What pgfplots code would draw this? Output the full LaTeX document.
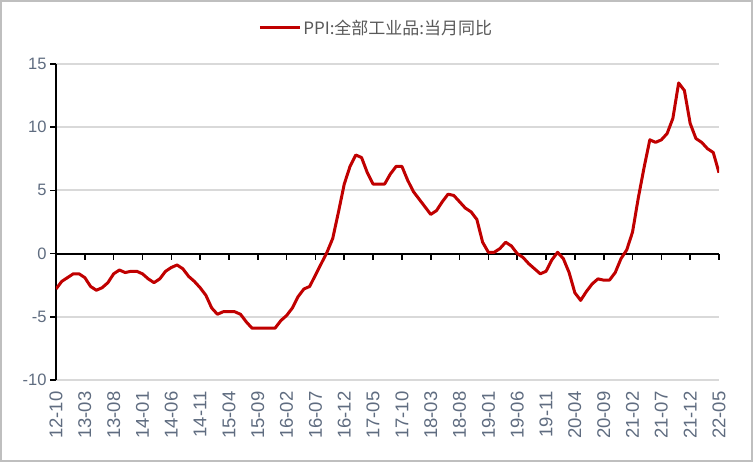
\documentclass[border=0pt]{standalone}
\usepackage{pgfplots}
\pgfplotsset{compat=1.18}
\usepackage{pgfplotstable}
\usepackage{fontspec}
\setmainfont{Liberation Sans}
\newfontfamily\cjk{Noto Sans CJK SC}
\definecolor{ppired}{RGB}{192,0,0}
\definecolor{gridgray}{RGB}{217,217,217}
\definecolor{ticktext}{RGB}{95,108,128}
\definecolor{legtext}{RGB}{89,89,89}
\definecolor{framegray}{RGB}{191,191,191}

\pgfplotstableread{
idx val
0 -2.8
1 -2.2
2 -1.9
3 -1.6
4 -1.6
5 -1.9
6 -2.6
7 -2.9
8 -2.7
9 -2.3
10 -1.6
11 -1.3
12 -1.5
13 -1.4
14 -1.4
15 -1.6
16 -2.0
17 -2.3
18 -2.0
19 -1.4
20 -1.1
21 -0.9
22 -1.2
23 -1.8
24 -2.2
25 -2.7
26 -3.3
27 -4.3
28 -4.8
29 -4.6
30 -4.6
31 -4.6
32 -4.8
33 -5.4
34 -5.9
35 -5.9
36 -5.9
37 -5.9
38 -5.9
39 -5.3
40 -4.9
41 -4.3
42 -3.4
43 -2.8
44 -2.6
45 -1.7
46 -0.8
47 0.1
48 1.2
49 3.3
50 5.5
51 6.9
52 7.8
53 7.6
54 6.4
55 5.5
56 5.5
57 5.5
58 6.3
59 6.9
60 6.9
61 5.8
62 4.9
63 4.3
64 3.7
65 3.1
66 3.4
67 4.1
68 4.7
69 4.6
70 4.1
71 3.6
72 3.3
73 2.7
74 0.9
75 0.1
76 0.1
77 0.4
78 0.9
79 0.6
80 0.0
81 -0.3
82 -0.8
83 -1.2
84 -1.6
85 -1.4
86 -0.5
87 0.1
88 -0.4
89 -1.5
90 -3.1
91 -3.7
92 -3.0
93 -2.4
94 -2.0
95 -2.1
96 -2.1
97 -1.5
98 -0.4
99 0.3
100 1.7
101 4.4
102 6.8
103 9.0
104 8.8
105 9.0
106 9.5
107 10.7
108 13.5
109 12.9
110 10.3
111 9.1
112 8.8
113 8.3
114 8.0
115 6.4
}\ppidata

\begin{document}
\begin{tikzpicture}[x=1pt,y=1pt]
\useasboundingbox (0,0) rectangle (753,462);
\draw[framegray, line width=2pt] (1,1) rectangle (752,461);
% zero line with downward ticks
\begin{axis}[
  at={(56pt,82pt)}, anchor=south west, scale only axis,
  width=663pt, height=316pt,
  xmin=0, xmax=115, ymin=-10, ymax=15,
  axis x line*=middle, axis y line=none,
  xtick={0,5,...,115}, xticklabels={},
  ytick=\empty,
  xtick align=outside,
  major tick length=6pt,
  axis line style={black, line width=2pt},
  x tick style={black, line width=1.6pt},
]
\end{axis}
\begin{axis}[
  at={(56pt,82pt)}, anchor=south west, scale only axis,
  width=663pt, height=316pt,
  xmin=0, xmax=115, ymin=-10, ymax=15,
  axis y line*=left, axis x line*=bottom,
  x axis line style={draw=none},
  y axis line style={black, line width=2pt},
  xtick={0,5,...,115},
  xticklabels={12-10,13-03,13-08,14-01,14-06,14-11,15-04,15-09,16-02,16-07,16-12,17-05,17-10,18-03,18-08,19-01,19-06,19-11,20-04,20-09,21-02,21-07,21-12,22-05},
  x tick style={draw=none},
  xticklabel shift=8pt,
  x tick label style={rotate=90, anchor=east, text=ticktext, font=\fontsize{18.5}{20}\selectfont},
  ytick={-10,-5,5,10,15},
  extra y ticks={0},
  extra y tick style={grid=none},
  y tick label style={text=ticktext, font=\fontsize{16.5}{18}\selectfont},
  ytick align=outside,
  y tick style={black, line width=1.6pt},
  major tick length=6pt,
  ymajorgrids,
  grid style={gridgray, line width=2pt},
  /pgf/number format/assume math mode=true,
  legend style={at={(0.483,1.114)}, anchor=center, draw=none, fill=none,
    font=\fontsize{17}{19}\selectfont, text=legtext},
  legend image code/.code={\draw[#1] (0pt,0pt) -- (40pt,0pt);},
]
\addplot[ppired, line width=3pt, no marks, line join=round] table[x=idx, y=val] {\ppidata};
\addlegendentry{\cjk PPI:全部工业品:当月同比}
\end{axis}
\end{tikzpicture}
\end{document}
